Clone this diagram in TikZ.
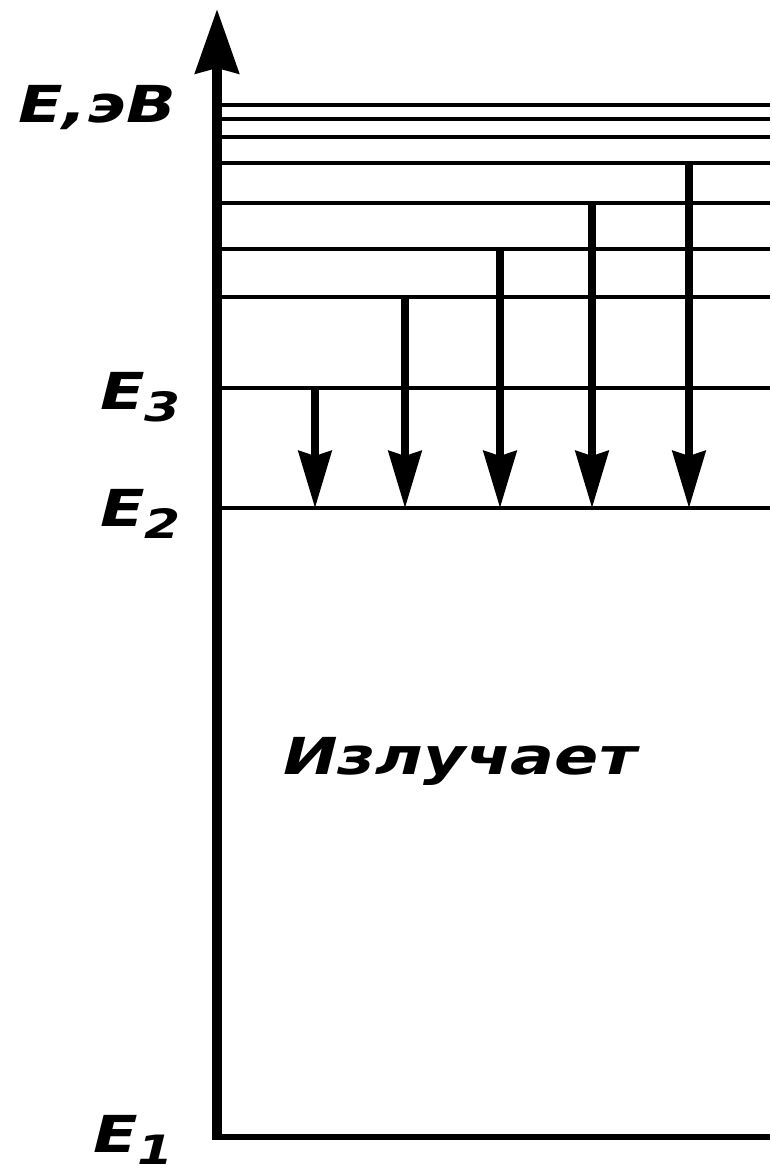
\documentclass[tikz,border=0pt]{standalone}
\usepackage{fontspec}
\setmainfont{DejaVu Sans}
\usepackage{tikz}
\usetikzlibrary{arrows.meta}
\definecolor{nero}{HTML}{000000}
\newcommand{\larga}[1]{\scalebox{1.28}[1]{#1}}
\newcommand{\livE}[1]{E\raisebox{-0.24cm}{\fontsize{23}{26}\selectfont #1}}

\begin{document}
\begin{tikzpicture}[
      asse/.style={draw=nero, line width=5.7pt, -{Stealth[length=1.28cm, width=0.86cm, inset=0.1cm]}},
      livello/.style={draw=nero, line width=2.3pt},
      fondo/.style={draw=nero, line width=3pt},
      salto/.style={draw=nero, line width=4pt, -{Stealth[length=1.14cm, width=0.66cm, inset=0.1cm]}},
      testo/.style={anchor=base west, inner sep=0pt, text=nero, font=\fontsize{29}{34}\selectfont\bfseries\itshape}
    ]
    \useasboundingbox (0,0) rectangle (15.44,23.46);
    \coordinate (o) at (4.34,0.72);
    \coordinate (cima) at (4.34,23.28);
    \coordinate (e1r) at (15.4,0.72);
    % Livelli energetici
    \foreach \y/\n in {13.30/2, 15.70/3, 17.52/4, 18.48/5, 19.40/6, 20.20/7, 20.72/8, 21.08/9, 21.36/10} {
      \coordinate (l\n) at (4.34,\y);
      \coordinate (r\n) at (15.4,\y);
      \draw[livello] (l\n) -- (r\n);
    }
    \draw[fondo] (o) -- (e1r);
    \draw[asse] ([yshift=-1.5pt]o) -- (cima);
    % Transizioni verso E2
    \foreach \x/\y/\n in {6.30/15.70/a, 8.10/17.52/b, 10.00/18.48/c, 11.84/19.40/d, 13.78/20.20/e} {
      \coordinate (da\n) at (\x,\y);
      \coordinate (a\n) at (\x,13.30);
      \draw[salto] (da\n) -- (a\n);
    }
    % Etichette
    \node[testo] (unita) at (0.36,21.0) {\larga{E,эВ}};
    \node[testo] (et3) at (2.0,15.26) {\larga{\livE{3}}};
    \node[testo] (et2) at (2.0,12.92) {\larga{\livE{2}}};
    \node[testo] (et1) at (1.86,0.40) {\larga{\livE{1}}};
    \node[testo] (emette) at (5.66,7.96) {\larga{Излучает}};
  \end{tikzpicture}
\end{document}
